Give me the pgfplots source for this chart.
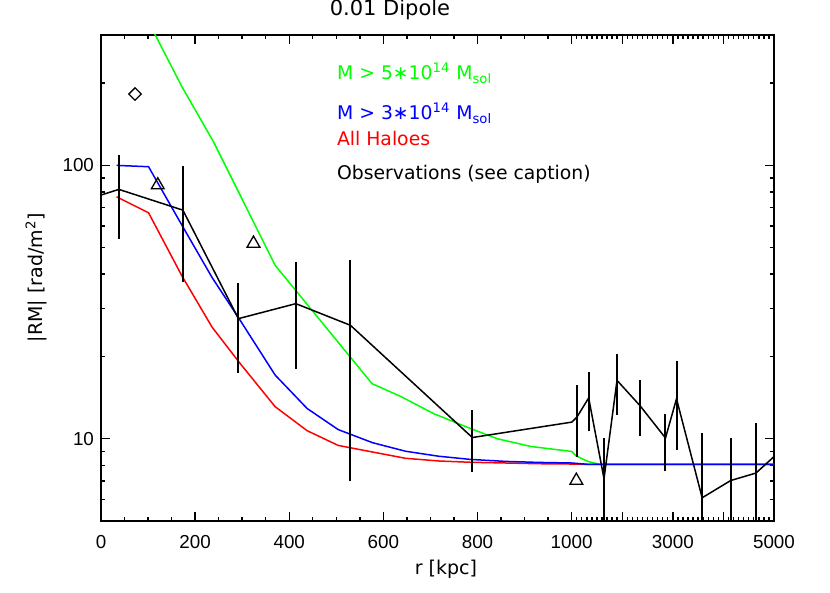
\documentclass[border=0pt]{standalone}
\usepackage{fontspec}
\setmainfont{DejaVu Sans}
\newfontfamily\tickfont{Liberation Sans}
\usepackage{pgfplots}
\pgfplotsset{compat=1.18}
\definecolor{idlgreen}{RGB}{0,255,0}
\definecolor{idlblue}{RGB}{0,0,255}
\definecolor{idlred}{RGB}{255,0,0}

\begin{document}
\begin{tikzpicture}
\path[use as bounding box] (-50.5pt,-36pt) rectangle (364.5pt,260.5pt);
\begin{axis}[
  scale only axis, width=336.5pt, height=243pt,
  at={(0pt,0pt)}, anchor=south west,
  xmin=0, xmax=1430, ymode=log, ymin=5, ymax=300,
  % linear up to 1000 kpc, compressed beyond
  x filter/.expression={x>1000 ? 1000+(x-1000)*0.1075 : x},
  xtick={0,200,400,600,800,1000,1107.5,1215,1322.5,1430},
  xticklabels={0,200,400,600,800,1000,,3000,,5000},
  minor xtick={50,100,150,250,300,350,450,500,550,650,700,750,850,900,950,
    1010.75,1021.5,1032.25,1043,1053.75,1064.5,1075.25,1086,1096.75,
    1118.25,1129,1139.75,1150.5,1161.25,1172,1182.75,1193.5,1204.25,
    1225.75,1236.5,1247.25,1258,1268.75,1279.5,1290.25,1301,1311.75,
    1333.25,1344,1354.75,1365.5,1376.25,1387,1397.75,1408.5,1419.25},
  ytick={10,100}, yticklabels={10,100},
  minor ytick={5,6,7,8,9,20,30,40,50,60,70,80,90,200,300},
  major tick length=4.5pt, minor tick length=2.2pt,
  tick align=inside, tick pos=both,
  tick style={black, line width=0.7pt},
  axis line style={line width=0.75pt},
  tick label style={font=\tickfont\fontsize{9.4}{11}\selectfont},
  /pgf/number format/assume math mode=true,
  xticklabel style={yshift=-3.5pt},
  every axis title shift=0pt,
  title={0.01 Dipole},
  title style={at={(axis description cs:0.4294,1.0391)}, anchor=base, inner sep=0pt, font=\fontsize{10.5}{12}\selectfont},
  xlabel={r [kpc]},
  xlabel style={at={(axis description cs:0.5126,-0.1111)}, anchor=base, inner sep=0pt, font=\fontsize{9.5}{11}\selectfont},
  ylabel={|RM| [rad/m\textsuperscript{2}]},
  ylabel style={at={(axis description cs:-0.0862,0.501)}, anchor=base, inner sep=0pt, font=\fontsize{9.5}{11}\selectfont},
]
% M > 5e14
\addplot[idlgreen, line width=0.75pt] coordinates {(33,560) (101,335) (172,194) (239,122) (370,43.1) (576,15.9) (636,14.3) (707,12.35) (785,10.9) (842,10.0) (913,9.37) (1003,8.98) (1093,8.64) (1323,8.26) (1554,8.05) (5000,8.05)};
% all haloes
\addplot[idlred, line width=0.75pt] coordinates {(33,76.8) (101,67.1) (172,39.4) (236,25.6) (294,19.0) (370,13.1) (438,10.7) (504,9.45) (577,8.94) (647,8.48) (717,8.29) (785,8.2) (860,8.15) (930,8.1) (1000,8.08) (1360,8.05) (5000,8.05)};
% M > 3e14
\addplot[idlblue, line width=0.75pt] coordinates {(33,100) (101,98.9) (172,60.4) (236,38.9) (294,27.4) (370,17.1) (438,12.9) (504,10.8) (577,9.67) (647,9.0) (717,8.63) (785,8.40) (860,8.26) (930,8.19) (1000,8.15) (1360,8.05) (5000,8.05)};
% observations
\addplot[black, line width=0.75pt] coordinates {(0,77.9) (38,81.7) (174,68.6) (292,27.5) (414,31.2) (530,26.0) (789,10.1) (1003,11.5) (1105,12.0) (1337,14.1) (1640,7.14) (1897,16.35) (2347,13.24) (2855,10.06) (3073,14.0) (3580,6.08) (4143,7.03) (4644,7.49) (5000,8.6)};
\addplot[black, line width=1pt, unbounded coords=jump] coordinates {
  (38,54.0) (38,109.1) (38,nan)
  (174,37.5) (174,99.7) (174,nan)
  (292,17.45) (292,37.0) (292,nan)
  (414,18.05) (414,44.4) (414,nan)
  (530,7.0) (530,45.0) (530,nan)
  (789,7.55) (789,12.77) (789,nan)
  (1105,8.57) (1105,15.77) (1105,nan)
  (1337,10.67) (1337,17.55) (1337,nan)
  (1640,4.5) (1640,10.06) (1640,nan)
  (1897,12.24) (1897,20.5) (1897,nan)
  (2347,10.23) (2347,16.35) (2347,nan)
  (2855,7.59) (2855,12.35) (2855,nan)
  (3073,9.11) (3073,19.26) (3073,nan)
  (3580,4.5) (3580,10.49) (3580,nan)
  (4143,4.5) (4143,10.06) (4143,nan)
  (4644,4.5) (4644,11.41)};
\addplot[only marks, black, mark=triangle, mark size=3.7pt, mark options={line width=0.65pt}] coordinates {(120.6,84.7) (324,51.8) (1093,7.03)};
\addplot[only marks, black, mark=square, mark size=2.2pt, mark options={rotate=45, line width=0.65pt}] coordinates {(72.3,182.4)};
\node[anchor=base west, inner sep=0pt, text=idlgreen, font=\fontsize{9.4}{11}\selectfont] at (rel axis cs:0.3502,0.9074) {M > 5∗10\textsuperscript{14} M\textsubscript{sol}};
\node[anchor=base west, inner sep=0pt, text=idlblue, font=\fontsize{9.4}{11}\selectfont] at (rel axis cs:0.3502,0.8251) {M > 3∗10\textsuperscript{14} M\textsubscript{sol}};
\node[anchor=base west, inner sep=0pt, text=idlred, font=\fontsize{9.4}{11}\selectfont] at (rel axis cs:0.3502,0.7716) {All Haloes};
\node[anchor=base west, inner sep=0pt, text=black, font=\fontsize{9.4}{11}\selectfont] at (rel axis cs:0.3502,0.7031) {Observations (see caption)};
\end{axis}
\end{tikzpicture}
\end{document}
